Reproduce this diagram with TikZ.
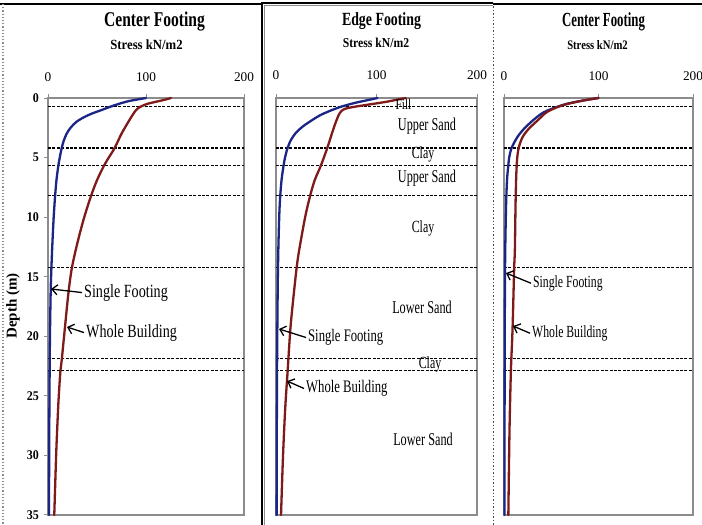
\documentclass[tikz,border=0pt]{standalone}
\usepackage{fontspec}
\setmainfont{Liberation Serif}
\usepackage{graphicx}
\usetikzlibrary{arrows.meta}
\definecolor{sfblue}{HTML}{1B2585}
\definecolor{wbred}{HTML}{7E1A1A}
\definecolor{framegray}{HTML}{8C8C8C}
\newcommand\sq[2]{\scalebox{#1}[1]{#2}}
\newcommand\fs[1]{\fontsize{#1}{#1}\selectfont}
\tikzset{
  single/.style={draw=sfblue, line width=2.3pt, line join=round, line cap=round},
  whole/.style={draw=wbred, line width=2.3pt, line join=round, line cap=round},
  layerline/.style={draw=black, dash pattern=on 3pt off 1.4pt, line width=1.1pt},
  plotframe/.style={draw=framegray, line width=1.2pt},
  axistick/.style={draw=framegray, line width=1pt},
  annoarrow/.style={-{Straight Barb[length=5.5pt,width=10pt]}, line width=1.3pt, draw=black},
  txt/.style={inner sep=1pt, text=black},
}
\begin{document}
\begin{tikzpicture}[x=1pt,y=-1pt]
\useasboundingbox (0,0) rectangle (702,525);
\fill[white] (0,0) rectangle (702,525);

% ---------- panel frames ----------
\draw[black, line width=1.4pt] (0,4) -- (262,4);
\draw[framegray, line width=1.2pt, dotted] (3,4) -- (3,525);
\draw[black, line width=1.5pt] (262,525) -- (262,3) -- (493,3);
\draw[framegray, line width=1pt] (264.5,525) -- (264.5,5.5) -- (493,5.5);
\draw[black!70, line width=1.4pt, dotted] (493.5,3) -- (493.5,525);
\draw[black, line width=1.4pt] (493,4) -- (702,4);

% ---------- panel 1 plot ----------
\begin{scope}[xshift=48pt, yshift=-98pt, x=0.98pt, y=-11.914pt]
  \draw[plotframe] (0,0) rectangle (200,35);
  \foreach \v in {0,100,200} \draw[axistick] (\v,0) -- (\v,-0.34);
  \foreach \d in {0,5,...,35} \draw[axistick] (0,\d) -- (-4.1,\d);
  \foreach \d in {0.75,4.2,5.7,8.2,14.2,21.9,22.9} \draw[layerline] (0,\d) -- (200,\d);
  \draw[single] plot[smooth, tension=0.5] coordinates {(100,0) (83,0.25) (72,0.5) (63,0.75) (55,1.0) (45,1.3) (37,1.6) (29,2.0) (23,2.5) (19,3.0) (16,3.6) (14,4.2) (12,5) (10.5,5.7) (8.5,7) (7,8.5) (5.8,10) (4.6,12) (3.6,14) (2.8,16) (2,20) (1.5,25) (1.2,30) (1,35)};
  \draw[whole] plot[smooth, tension=0.5] coordinates {(125.5,0) (119,0.15) (111,0.3) (101,0.5) (94,0.75) (90,1.0) (86.5,1.4) (82,2) (75,3) (68,4.2) (62,5) (57,5.7) (50,6.9) (44,8.2) (37,10) (30.5,12) (24.5,14.2) (20.8,16.4) (17,19.5) (14,22) (12.6,23) (11,25) (9.8,27) (8.3,30) (6.4,35)};
\end{scope}
\node[txt, anchor=base, font=\fs{21}\bfseries] (t1) at (154.5,26) {\sq{0.74}{Center Footing}};
\node[txt, anchor=base, font=\fs{14}\bfseries] (s1) at (146.5,49.3) {\sq{0.91}{Stress kN/m2}};
\node[txt, anchor=base, font=\fs{13.3}] (p1x0) at (48,81.7) {0};
\node[txt, anchor=base, font=\fs{13.3}] (p1x1) at (146,81.7) {100};
\node[txt, anchor=base, font=\fs{13.3}] (p1x2) at (244,81.7) {200};
\foreach \d in {0,5,...,35} \node[txt, anchor=east, font=\fs{13.3}\bfseries] (p1y\d) at (40,98+11.914*\d) {\sq{0.9}{\d}};
\node[txt, rotate=90, font=\fs{15}\bfseries] (dep) at (13,306) {Depth (m)};
\node[txt, anchor=base west, font=\fs{18.6}] (sf1) at (83,297) {\sq{0.76}{Single Footing}};
\coordinate (sf1tip) at (51,289);
\draw[annoarrow] ([xshift=-1pt]sf1.west) -- (sf1tip);
\node[txt, anchor=base west, font=\fs{18.6}] (wb1) at (85,337) {\sq{0.76}{Whole Building}};
\coordinate (wb1tip) at (67,327);
\draw[annoarrow] ([xshift=-1pt]wb1.west) -- (wb1tip);

% ---------- panel 2 plot ----------
\begin{scope}[xshift=276pt, yshift=-98pt, x=1.005pt, y=-11.914pt]
  \draw[plotframe] (0,0) rectangle (200,35);
  \foreach \v in {0,100,200} \draw[axistick] (\v,0) -- (\v,-0.34);
  \foreach \d in {0.75,4.2,5.7,8.2,14.2,21.9,22.9} \draw[layerline] (0,\d) -- (200,\d);
  \draw[single] plot[smooth, tension=0.5] coordinates {(101,0) (90,0.2) (79,0.4) (66,0.7) (56,1) (45,1.4) (36,1.85) (26.5,2.4) (20,2.9) (15,3.5) (11.5,4.2) (9,5) (7.5,5.7) (5.5,6.9) (4,8.5) (3.2,10) (2.3,12.8) (1.7,16) (1.1,22) (0.8,28) (0.6,35)};
  \draw[whole] plot[smooth, tension=0.5] coordinates {(129,0) (120,0.15) (111,0.3) (100,0.45) (88.5,0.6) (77,0.75) (69,0.9) (65,1.1) (62,1.5) (57.5,2.5) (51,4.2) (44.5,5.7) (38.5,6.9) (34,8.2) (29,10) (23,12.8) (20.6,14.2) (17,17) (14.2,19.5) (11.6,22.9) (9.2,26) (7,30) (5,35)};
\end{scope}
\node[txt, anchor=base, font=\fs{18.6}\bfseries] (t2) at (381.5,25) {\sq{0.745}{Edge Footing}};
\node[txt, anchor=base, font=\fs{13.6}\bfseries] (s2) at (376,47.3) {\sq{0.86}{Stress kN/m2}};
\node[txt, anchor=base, font=\fs{13.3}] (p2x0) at (276,79.3) {0};
\node[txt, anchor=base, font=\fs{13.3}] (p2x1) at (376.5,79.3) {100};
\node[txt, anchor=base, font=\fs{13.3}] (p2x2) at (477,79.3) {200};
\node[txt, anchor=base, font=\fs{15}] (L1) at (403.5,109) {\sq{0.75}{Fill}};
\node[txt, anchor=base, font=\fs{18}] (L2) at (427,130) {\sq{0.68}{Upper Sand}};
\node[txt, anchor=base, font=\fs{17}] (L3) at (423,158) {\sq{0.7}{Clay}};
\node[txt, anchor=base, font=\fs{18}] (L4) at (427,182) {\sq{0.68}{Upper Sand}};
\node[txt, anchor=base, font=\fs{17}] (L5) at (423,232) {\sq{0.7}{Clay}};
\node[txt, anchor=base, font=\fs{18}] (L6) at (422,313) {\sq{0.68}{Lower Sand}};
\node[txt, anchor=base, font=\fs{17}] (L7) at (430,368) {\sq{0.7}{Clay}};
\node[txt, anchor=base, font=\fs{18}] (L8) at (423,445) {\sq{0.68}{Lower Sand}};
\node[txt, anchor=base west, font=\fs{17.6}] (sf2) at (307,341.7) {\sq{0.72}{Single Footing}};
\coordinate (sf2tip) at (279,329);
\draw[annoarrow] ([xshift=-1pt]sf2.west) -- (sf2tip);
\node[txt, anchor=base west, font=\fs{17.6}] (wb2) at (305,392.7) {\sq{0.72}{Whole Building}};
\coordinate (wb2tip) at (287,381);
\draw[annoarrow] ([xshift=-1pt]wb2.west) -- (wb2tip);

% ---------- panel 3 plot ----------
\begin{scope}[xshift=504pt, yshift=-98pt, x=0.945pt, y=-11.914pt]
  \draw[plotframe] (0,0) rectangle (200,35);
  \foreach \v in {0,100,200} \draw[axistick] (\v,0) -- (\v,-0.34);
  \foreach \d in {0.75,4.2,5.7,8.2,14.2,21.9,22.9} \draw[layerline] (0,\d) -- (200,\d);
  \draw[single] plot[smooth, tension=0.5] coordinates {(100,0) (88,0.15) (78,0.3) (66,0.5) (56,0.75) (42,1.2) (31,1.85) (21,2.6) (14,3.3) (8,4.2) (5.5,5) (4.5,5.7) (3.2,6.9) (2.2,9) (1.3,12.8) (1,16) (0.7,22) (0.5,35)};
  \draw[whole] plot[smooth, tension=0.5] coordinates {(100,0) (88,0.15) (78,0.3) (67,0.5) (57,0.75) (45,1.2) (36,1.85) (26,2.6) (19.5,3.3) (15.5,4.2) (14,5) (13.4,5.7) (12.8,6.9) (12.2,9) (11.5,12.8) (10.8,14.2) (9,19.5) (7.3,22.9) (5.8,28) (4.6,35)};
\end{scope}
\node[txt, anchor=base, font=\fs{20}\bfseries] (t3) at (603.5,26) {\sq{0.64}{Center Footing}};
\node[txt, anchor=base, font=\fs{13}\bfseries] (s3) at (597.5,49.3) {\sq{0.82}{Stress kN/m2}};
\node[txt, anchor=base, font=\fs{13.3}] (p3x0) at (504,80) {0};
\node[txt, anchor=base, font=\fs{13.3}] (p3x1) at (598.5,80) {100};
\node[txt, anchor=base, font=\fs{13.3}] (p3x2) at (693,80) {200};
\node[txt, anchor=base west, font=\fs{17}] (sf3) at (532,287.3) {\sq{0.69}{Single Footing}};
\coordinate (sf3tip) at (506,273);
\draw[annoarrow] ([xshift=-1pt]sf3.west) -- (sf3tip);
\node[txt, anchor=base west, font=\fs{17}] (wb3) at (531,337.3) {\sq{0.69}{Whole Building}};
\coordinate (wb3tip) at (513,326);
\draw[annoarrow] ([xshift=-1pt]wb3.west) -- (wb3tip);
\end{tikzpicture}
\end{document}
